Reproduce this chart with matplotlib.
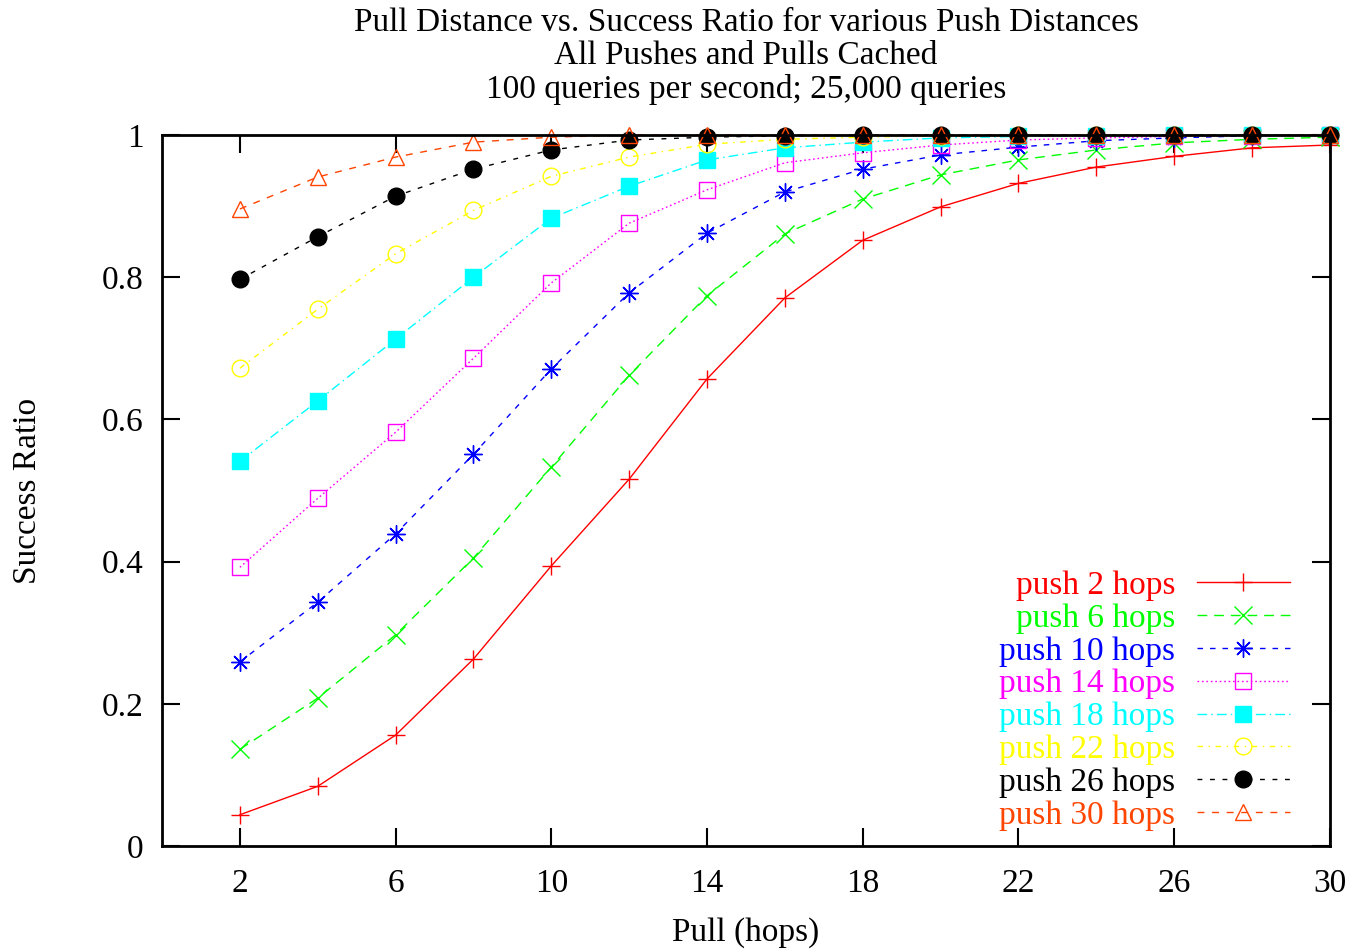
import matplotlib
matplotlib.use("Agg")
import matplotlib.pyplot as plt

plt.rcParams['font.family'] = ['Liberation Serif', 'DejaVu Serif']

pull = [2, 4, 6, 8, 10, 12, 14, 16, 18, 20, 22, 24, 26, 28, 30]

push2  = [0.044, 0.084, 0.156, 0.263, 0.394, 0.516, 0.657, 0.771, 0.852, 0.899, 0.932, 0.955, 0.970, 0.982, 0.986]
push6  = [0.136, 0.208, 0.297, 0.405, 0.533, 0.662, 0.774, 0.861, 0.910, 0.944, 0.965, 0.979, 0.989, 0.994, 0.997]
push10 = [0.259, 0.343, 0.439, 0.551, 0.671, 0.778, 0.862, 0.920, 0.952, 0.972, 0.983, 0.992, 0.996, 0.999, 1.000]
push14 = [0.392, 0.489, 0.582, 0.686, 0.792, 0.876, 0.923, 0.961, 0.975, 0.986, 0.993, 0.996, 0.998, 0.999, 1.000]
push18 = [0.541, 0.626, 0.713, 0.800, 0.883, 0.928, 0.965, 0.982, 0.990, 0.996, 0.998, 0.999, 1.000, 1.000, 1.000]
push22 = [0.672, 0.755, 0.833, 0.894, 0.942, 0.969, 0.987, 0.994, 0.997, 0.999, 1.000, 1.000, 1.000, 1.000, 1.000]
push26 = [0.797, 0.857, 0.914, 0.952, 0.979, 0.993, 0.997, 0.999, 1.000, 1.000, 1.000, 1.000, 1.000, 1.000, 1.000]
push30 = [0.896, 0.941, 0.969, 0.990, 0.997, 1.000, 1.000, 1.000, 1.000, 1.000, 1.000, 1.000, 1.000, 1.000, 1.000]

labels = ["push 2 hops", "push 6 hops", "push 10 hops", "push 14 hops",
          "push 18 hops", "push 22 hops", "push 26 hops", "push 30 hops"]
series = [push2, push6, push10, push14, push18, push22, push26, push30]

xticks = [2, 6, 10, 14, 18, 22, 26, 30]
yticks = [0, 0.2, 0.4, 0.6, 0.8, 1]
yticklabels = ["0", "0.2", "0.4", "0.6", "0.8", "1"]

title = ("Pull Distance vs. Success Ratio for various Push Distances\n"
         "All Pushes and Pulls Cached\n"
         "100 queries per second; 25,000 queries")

colors = ['#ff0000', '#00ff00', '#0000ff', '#ff00ff', '#00ffff', '#ffff00', '#000000', '#ff4500']
styles = [
    dict(marker='+', ms=13, mew=1.0, ls='-', mfc='none'),
    dict(marker='x', ms=13, mew=1.0, ls=(0, (7, 5)), mfc='none'),
    dict(marker=(8, 2, 0), ms=13, mew=1.0, ls=(0, (4, 5)), mfc='none'),
    dict(marker='s', ms=11.5, mew=1.0, ls=(0, (1.2, 2)), mfc='none'),
    dict(marker='s', ms=11.5, mew=1.0, ls=(0, (7, 3, 1, 3))),
    dict(marker='o', ms=12, mew=1.0, ls=(0, (4, 4, 1, 4)), mfc='none'),
    dict(marker='o', ms=12, mew=1.0, ls=(0, (3.5, 5.5))),
    dict(marker='^', ms=12, mew=1.0, ls=(0, (5, 5.5)), mfc='none'),
]

fig = plt.figure(figsize=(13.57, 9.49), dpi=100)
ax = fig.add_axes([0.1194, 0.1085, 0.8606, 0.7492])

for vals, lab, c, st in zip(series, labels, colors, styles):
    ax.plot(pull, vals, color=c, mec=c, lw=1.0, label=lab, clip_on=False, **st)

ax.set_xlim(0, 30)
ax.set_ylim(0, 1)
ax.set_xticks(xticks)
ax.set_xticklabels([str(t) for t in xticks])
ax.set_yticks(yticks)
ax.set_yticklabels(yticklabels)
ax.tick_params(direction='in', length=13, width=1.5, labelsize=24,
               top=True, right=True)
ax.tick_params(axis='x', pad=16)
ax.tick_params(axis='y', pad=13.5)
for sp in ax.spines.values():
    sp.set_linewidth(2)

ax.set_xlabel("Pull (hops)", fontsize=24, labelpad=13)
ax.set_ylabel("Success Ratio", fontsize=24, labelpad=42)
ax.set_title(title, fontsize=24, linespacing=1.1, pad=27)

leg = ax.legend(loc='lower right', bbox_to_anchor=(0.979, 0.0), frameon=False,
                markerfirst=False, numpoints=1, fontsize=24, handlelength=2.8,
                labelspacing=0.07, handletextpad=0.65, borderaxespad=0.06,
                labelcolor='linecolor')

fig.savefig("out.png", dpi=100)
